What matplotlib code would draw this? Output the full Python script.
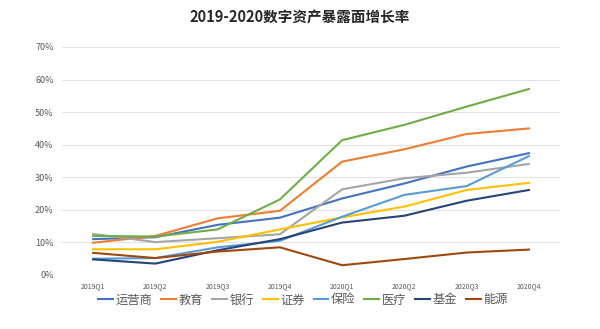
import matplotlib
matplotlib.use("Agg")
import matplotlib.pyplot as plt
from matplotlib.ticker import FuncFormatter

plt.rcParams['font.family'] = ['Noto Sans CJK SC', 'DejaVu Sans']

quarters = ["2019Q1", "2019Q2", "2019Q3", "2019Q4", "2020Q1", "2020Q2", "2020Q3", "2020Q4"]

operator = [11.0, 11.6, 15.4, 17.6, 23.5, 28.1, 33.3, 37.4]
education = [9.9, 12.0, 17.4, 19.7, 34.8, 38.6, 43.3, 45.0]
bank = [12.6, 10.1, 11.3, 12.5, 26.3, 29.7, 31.4, 34.1]
securities = [7.9, 7.9, 10.2, 14.0, 17.7, 21.0, 26.1, 28.3]
insurance = [5.0, 5.2, 8.5, 10.5, 17.9, 24.6, 27.3, 36.5]
medical = [12.0, 11.8, 14.0, 23.2, 41.4, 46.1, 51.7, 57.1]
fund = [4.8, 3.5, 7.6, 11.0, 16.1, 18.2, 22.8, 26.1]
energy = [6.8, 5.2, 7.2, 8.5, 3.0, 4.9, 6.9, 7.8]

names = ["运营商", "教育", "银行", "证券", "保险", "医疗", "基金", "能源"]
series = [operator, education, bank, securities, insurance, medical, fund, energy]
colors = ["#4472C4", "#ED7D31", "#A5A5A5", "#FFC000", "#5B9BD5", "#70AD47", "#264478", "#9E480E"]

fig = plt.figure(figsize=(6, 3.29), dpi=100)
ax = fig.add_axes([62/600, 1 - 275/329, (560 - 62)/600, (275 - 47)/329])

x = range(len(quarters))
for vals, name, c in zip(series, names, colors):
    ax.plot(x, vals, color=c, linewidth=1.5, label=name)

ax.set_xlim(-0.5, len(quarters) - 0.5)
ax.set_ylim(0, 70)
ax.set_yticks(range(0, 71, 10))
ax.yaxis.set_major_formatter(FuncFormatter(lambda v, p: f"{int(v)}%"))
ax.set_xticks(list(x))
ax.set_xticklabels(quarters)
ax.tick_params(axis="y", length=0, labelsize=6.5, labelcolor="#595959", pad=6)
ax.tick_params(axis="x", length=0, labelsize=5, labelcolor="#595959", pad=5)
ax.grid(axis="y", color="#E3E3E3", linewidth=0.8)
ax.set_axisbelow(True)
for s in ax.spines.values():
    s.set_visible(False)

fig.text(0.5, 1 - 17/329, "2019-2020数字资产暴露面增长率", ha="center", va="center",
         fontsize=10.5, fontweight="bold", color="#262626")

fig.legend(loc="center", bbox_to_anchor=(303/600, 1 - 300/329), ncol=8, frameon=False,
           fontsize=8.8, handlelength=1.2, handletextpad=0.2, columnspacing=0.75,
           labelcolor="#595959")

fig.savefig("out.png", dpi=100)
